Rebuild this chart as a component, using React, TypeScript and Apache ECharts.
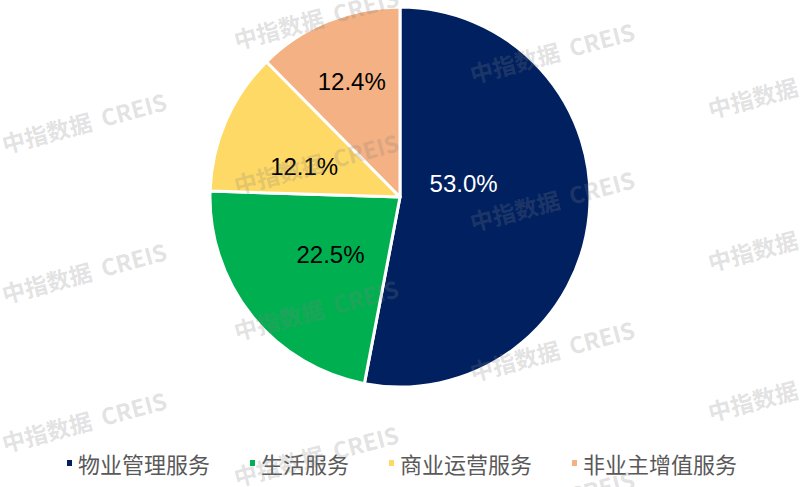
import React, { useEffect, useRef } from "react";
import * as echarts from "echarts";

const categories = ["物业管理服务", "生活服务", "商业运营服务", "非业主增值服务"];
const shares = [53.0, 22.5, 12.1, 12.4];
const sliceColors = ["#002060", "#00B050", "#FFD966", "#F4B183"];
const labelColors = ["#FFFFFF", "#000000", "#000000", "#000000"];
// label nudges (px) relative to ECharts' default inside position
const labelNudgeX = [-34, 7, -6, -11];
const labelNudgeY = [-23, -4, 9, -25];

const watermarkText = "中指数据  CREIS";
const watermarkCenters: [number, number][] = [
  [84, 122], [84, 272], [84, 421],
  [316, 18], [316, 163], [316, 309], [316, 455],
  [552, 52], [552, 200], [552, 350], [552, 500],
  [790, 87], [790, 240], [790, 390],
];

export default function App() {
  const ref = useRef<HTMLDivElement>(null);
  useEffect(() => {
    if (!ref.current) return;
    const chart = echarts.init(ref.current, undefined, { renderer: "svg" });
    const graphics = watermarkCenters.map(([x, y]) => ({
      type: "text",
      x,
      y,
      rotation: (15 * Math.PI) / 180,
      z: 100,
      silent: true,
      style: {
        text: watermarkText,
        fill: "rgba(128,128,128,0.24)",
        font: 'bold 23px "Noto Sans CJK SC"',
        align: "center",
        verticalAlign: "middle",
      },
    }));
    chart.setOption({
      animation: false,
      backgroundColor: "#FFFFFF",
      legend: {
        bottom: 8,
        left: "center",
        icon: "rect",
        itemWidth: 7,
        itemHeight: 8,
        itemGap: 38,
        textStyle: {
          color: "#595959",
          fontSize: 22,
          fontFamily: "Noto Sans CJK SC",
        },
        data: categories,
      },
      graphic: graphics,
      series: [
        {
          type: "pie",
          center: [400, 197],
          radius: 190,
          startAngle: 90,
          clockwise: true,
          avoidLabelOverlap: false,
          itemStyle: { borderColor: "#FFFFFF", borderWidth: 3 },
          label: {
            show: true,
            position: "inside",
            fontSize: 24,
            fontFamily: "Liberation Sans, Arial",
            formatter: (p: any) => p.value.toFixed(1) + "%",
          },
          labelLine: { show: false },
          labelLayout: (p: any) => ({
            dx: labelNudgeX[p.dataIndex],
            dy: labelNudgeY[p.dataIndex],
          }),
          emphasis: { disabled: true },
          data: categories.map((name, i) => ({
            name,
            value: shares[i],
            itemStyle: { color: sliceColors[i] },
            label: { color: labelColors[i] },
          })),
        },
      ],
    });
    return () => chart.dispose();
  }, []);
  return (
    <div
      ref={ref}
      style={{ position: "fixed", left: 0, top: 0, width: 802, height: 487 }}
    />
  );
}
